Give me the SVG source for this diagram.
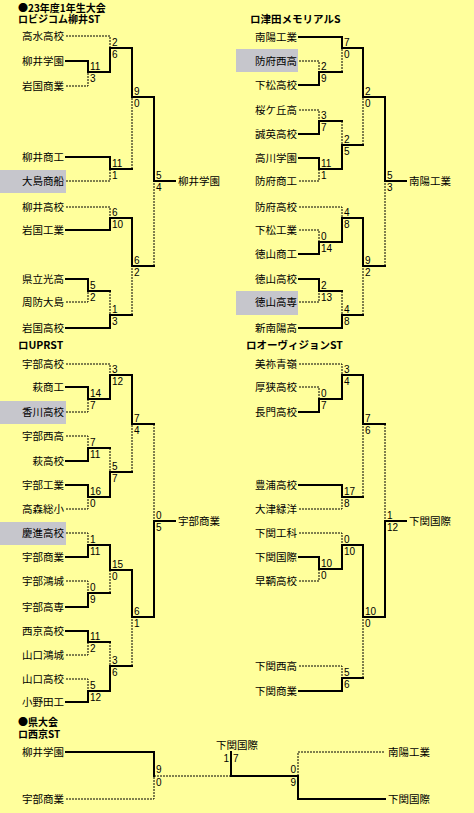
<svg xmlns="http://www.w3.org/2000/svg" width="474" height="813" viewBox="0 0 474 813">
<style>
.bg{fill:#ffff9c}
.hl{fill:#c6c6cc}
.t{font-family:"Noto Sans CJK JP","Liberation Sans",sans-serif;font-size:10.5px;fill:#000}
.r{text-anchor:end}
.h{font-family:"Noto Sans CJK JP","Liberation Sans",sans-serif;font-size:10.5px;font-weight:bold;fill:#000}
.hs{font-family:"Noto Sans CJK JP","Liberation Sans",sans-serif;font-size:10px;font-weight:bold;fill:#000}
.s{font-family:"Liberation Sans","Noto Sans CJK JP",sans-serif;font-size:10px;fill:#000}
.w{fill:none;stroke:#000;stroke-width:2;stroke-linecap:square;stroke-linejoin:miter}
.l{fill:none;stroke:#000;stroke-width:1;stroke-dasharray:2,1}
</style>
<rect class="bg" x="0" y="0" width="474" height="813"/>
<g id="headings">
<text class="hs" x="18" y="11.5"><tspan x="18" y="11.5">●23年度1年生大会</tspan><tspan x="18" y="22.5">ロビジコム柳井ST</tspan></text>
<text class="h" x="250" y="22.5">ロ津田メモリアルS</text>
<text class="h" x="18" y="349">ロUPRST</text>
<text class="h" x="246" y="349">ロオーヴィジョンST</text>
<text class="hs" x="18" y="725.5"><tspan x="18" y="725.5">●県大会</tspan><tspan x="18" y="738">ロ西京ST</tspan></text>
</g>
<g id="connectors">
<!-- left top -->
<path class="l" d="M66 36H110V48"/>
<path class="w" d="M66 61H88V72H110V48H132V97H154V181H175"/>
<path class="l" d="M66 86H88V72"/>
<path class="w" d="M66 157H110V169H132"/>
<path class="l" d="M66 181H110V169"/>
<path class="l" d="M132 169V97"/>
<path class="l" d="M66 207H110V218"/>
<path class="w" d="M66 230H110V218H132V266H154"/>
<path class="l" d="M154 266V181"/>
<path class="w" d="M66 279H88V291H110"/>
<path class="l" d="M66 302H88V291"/>
<path class="l" d="M110 291V315"/>
<path class="w" d="M66 328H110V315H132"/>
<path class="l" d="M132 315V266"/>
<!-- right top -->
<path class="w" d="M299 37H342V48H363V97H385V181H406"/>
<path class="l" d="M299 61H319V72"/>
<path class="w" d="M299 85H319V72H342"/>
<path class="l" d="M342 72V48"/>
<path class="l" d="M299 110H319V121"/>
<path class="w" d="M299 134H319V121H342"/>
<path class="l" d="M342 121V145"/>
<path class="w" d="M299 158H319V169H342V145H363"/>
<path class="l" d="M299 181H319V169"/>
<path class="l" d="M363 145V97"/>
<path class="l" d="M299 207H342V218"/>
<path class="l" d="M299 230H319V242"/>
<path class="w" d="M299 254H319V242H342V218H363V266H385"/>
<path class="l" d="M385 266V181"/>
<path class="w" d="M299 279H319V291H342"/>
<path class="l" d="M299 302H319V291"/>
<path class="l" d="M342 291V315"/>
<path class="w" d="M299 328H342V315H363"/>
<path class="l" d="M363 315V266"/>
<!-- left bottom -->
<path class="l" d="M66 364H110V375"/>
<path class="w" d="M66 387H88V399H110V375H132V424H154"/>
<path class="l" d="M66 412H88V399"/>
<path class="l" d="M154 424V521"/>
<path class="l" d="M66 436H88V448"/>
<path class="w" d="M66 461H88V448H110"/>
<path class="l" d="M110 448V472"/>
<path class="w" d="M66 485H88V497H110V472H132"/>
<path class="l" d="M66 509H88V497"/>
<path class="l" d="M132 472V424"/>
<path class="l" d="M66 533H88V545"/>
<path class="w" d="M66 557H88V545H110V570H132V617H154V521H175"/>
<path class="l" d="M66 581H88V593"/>
<path class="w" d="M66 607H88V593H110"/>
<path class="l" d="M110 593V570"/>
<path class="w" d="M66 631H88V642H110"/>
<path class="l" d="M66 655H88V642"/>
<path class="l" d="M110 642V666"/>
<path class="l" d="M66 679H88V691"/>
<path class="w" d="M66 702H88V691H110V666H132"/>
<path class="l" d="M132 666V617"/>
<!-- right bottom -->
<path class="l" d="M299 364H342V375"/>
<path class="l" d="M299 387H319V399"/>
<path class="w" d="M299 412H319V399H342V375H363V424H385"/>
<path class="l" d="M385 424V521"/>
<path class="w" d="M299 485H342V497H363"/>
<path class="l" d="M299 509H342V497"/>
<path class="l" d="M363 497V424"/>
<path class="l" d="M299 533H342V545"/>
<path class="w" d="M299 557H319V569H342V545H363V617H385V521H406"/>
<path class="l" d="M299 581H319V569"/>
<path class="l" d="M299 666H342V678"/>
<path class="w" d="M299 691H342V678H363"/>
<path class="l" d="M363 678V617"/>
<!-- prefectural -->
<path class="w" d="M66 752H154V776"/>
<path class="l" d="M66 799H154V776H231"/>
<path class="w" d="M231 752V776H298V799H385"/>
<path class="l" d="M298 776V752H385"/>
</g>
<g id="scores">
<text class="s" x="112" y="46">2</text><text class="s" x="112" y="58">6</text>
<text class="s" x="90" y="70">11</text><text class="s" x="90" y="82">3</text>
<text class="s" x="134" y="95">9</text><text class="s" x="134" y="107">0</text>
<text class="s" x="112" y="167">11</text><text class="s" x="112" y="179">1</text>
<text class="s" x="156" y="179">5</text><text class="s" x="156" y="191">4</text>
<text class="s" x="112" y="216">6</text><text class="s" x="112" y="228">10</text>
<text class="s" x="134" y="264">6</text><text class="s" x="134" y="276">2</text>
<text class="s" x="90" y="289">5</text><text class="s" x="90" y="301">2</text>
<text class="s" x="112" y="313">1</text><text class="s" x="112" y="325">3</text>

<text class="s" x="344" y="46">7</text><text class="s" x="344" y="58">0</text>
<text class="s" x="321" y="70">2</text><text class="s" x="321" y="82">9</text>
<text class="s" x="365" y="95">2</text><text class="s" x="365" y="107">0</text>
<text class="s" x="321" y="119">3</text><text class="s" x="321" y="131">7</text>
<text class="s" x="344" y="143">2</text><text class="s" x="344" y="155">5</text>
<text class="s" x="321" y="167">11</text><text class="s" x="321" y="179">1</text>
<text class="s" x="387" y="179">5</text><text class="s" x="387" y="191">3</text>
<text class="s" x="344" y="216">4</text><text class="s" x="344" y="228">8</text>
<text class="s" x="321" y="240">0</text><text class="s" x="321" y="252">14</text>
<text class="s" x="365" y="264">9</text><text class="s" x="365" y="276">2</text>
<text class="s" x="321" y="289">2</text><text class="s" x="321" y="301">13</text>
<text class="s" x="344" y="313">4</text><text class="s" x="344" y="325">8</text>

<text class="s" x="112" y="373">3</text><text class="s" x="112" y="385">12</text>
<text class="s" x="90" y="397">14</text><text class="s" x="90" y="409">7</text>
<text class="s" x="134" y="422">7</text><text class="s" x="134" y="434">4</text>
<text class="s" x="90" y="446">7</text><text class="s" x="90" y="458">11</text>
<text class="s" x="112" y="470">5</text><text class="s" x="112" y="482">7</text>
<text class="s" x="90" y="495">16</text><text class="s" x="90" y="507">0</text>
<text class="s" x="156" y="519">0</text><text class="s" x="156" y="531">5</text>
<text class="s" x="90" y="543">1</text><text class="s" x="90" y="555">11</text>
<text class="s" x="112" y="568">15</text><text class="s" x="112" y="580">0</text>
<text class="s" x="90" y="591">0</text><text class="s" x="90" y="603">9</text>
<text class="s" x="134" y="615">6</text><text class="s" x="134" y="627">1</text>
<text class="s" x="90" y="640">11</text><text class="s" x="90" y="652">2</text>
<text class="s" x="112" y="664">3</text><text class="s" x="112" y="676">6</text>
<text class="s" x="90" y="689">5</text><text class="s" x="90" y="701">12</text>

<text class="s" x="344" y="373">3</text><text class="s" x="344" y="385">4</text>
<text class="s" x="321" y="397">0</text><text class="s" x="321" y="409">7</text>
<text class="s" x="365" y="422">7</text><text class="s" x="365" y="434">6</text>
<text class="s" x="344" y="495">17</text><text class="s" x="344" y="507">8</text>
<text class="s" x="387" y="519">1</text><text class="s" x="387" y="531">12</text>
<text class="s" x="344" y="543">0</text><text class="s" x="344" y="555">10</text>
<text class="s" x="321" y="567">10</text><text class="s" x="321" y="579">0</text>
<text class="s" x="365" y="615">10</text><text class="s" x="365" y="627">0</text>
<text class="s" x="344" y="676">5</text><text class="s" x="344" y="688">6</text>

<text class="s" x="156" y="773">9</text><text class="s" x="156" y="786">0</text>
<text class="s r" x="229" y="762">1</text><text class="s" x="233" y="762">7</text>
<text class="s r" x="296" y="773">0</text><text class="s r" x="296" y="786">9</text>
</g>
<!-- left top teams -->
<g id="n-takamizu"><text class="t r" x="64" y="40">高水高校</text></g>
<g id="n-yanai-gakuen"><text class="t r" x="64" y="65">柳井学園</text></g>
<g id="n-iwakuni-shogyo"><text class="t r" x="64" y="90">岩国商業</text></g>
<g id="n-yanai-shoko"><text class="t r" x="64" y="161">柳井商工</text></g>
<g id="n-oshima-shosen"><rect class="hl" x="0" y="170" width="66" height="23"/><text class="t r" x="64" y="185">大島商船</text></g>
<g id="n-yanai-koko"><text class="t r" x="64" y="211">柳井高校</text></g>
<g id="n-iwakuni-kogyo"><text class="t r" x="64" y="234">岩国工業</text></g>
<g id="n-kenritsu-hikari"><text class="t r" x="64" y="283">県立光高</text></g>
<g id="n-suo-oshima"><text class="t r" x="64" y="306">周防大島</text></g>
<g id="n-iwakuni-koko"><text class="t r" x="64" y="332">岩国高校</text></g>
<g id="n-win-a"><text class="t" x="178" y="185">柳井学園</text></g>
<!-- right top teams -->
<g id="n-nanyo-kogyo"><text class="t r" x="297" y="41">南陽工業</text></g>
<g id="n-hofu-nishi"><rect class="hl" x="236" y="49" width="62" height="23"/><text class="t r" x="297" y="65">防府西高</text></g>
<g id="n-kudamatsu-koko"><text class="t r" x="297" y="89">下松高校</text></g>
<g id="n-sakuragaoka"><text class="t r" x="297" y="114">桜ケ丘高</text></g>
<g id="n-seiei"><text class="t r" x="297" y="138">誠英高校</text></g>
<g id="n-takagawa"><text class="t r" x="297" y="162">高川学園</text></g>
<g id="n-hofu-shoko"><text class="t r" x="297" y="185">防府商工</text></g>
<g id="n-hofu-koko"><text class="t r" x="297" y="211">防府高校</text></g>
<g id="n-kudamatsu-kogyo"><text class="t r" x="297" y="234">下松工業</text></g>
<g id="n-tokuyama-shoko"><text class="t r" x="297" y="258">徳山商工</text></g>
<g id="n-tokuyama-koko"><text class="t r" x="297" y="283">徳山高校</text></g>
<g id="n-tokuyama-kosen"><rect class="hl" x="236" y="291" width="62" height="24"/><text class="t r" x="297" y="306">徳山高専</text></g>
<g id="n-shinnanyo"><text class="t r" x="297" y="332">新南陽高</text></g>
<g id="n-win-b"><text class="t" x="409" y="185">南陽工業</text></g>
<!-- left bottom teams -->
<g id="n-ube-koko"><text class="t r" x="64" y="368">宇部高校</text></g>
<g id="n-hagi-shoko"><text class="t r" x="64" y="391">萩商工</text></g>
<g id="n-kagawa"><rect class="hl" x="0" y="401" width="66" height="23"/><text class="t r" x="64" y="416">香川高校</text></g>
<g id="n-ube-nishi"><text class="t r" x="64" y="440">宇部西高</text></g>
<g id="n-hagi-koko"><text class="t r" x="64" y="465">萩高校</text></g>
<g id="n-ube-kogyo"><text class="t r" x="64" y="489">宇部工業</text></g>
<g id="n-takamori"><text class="t r" x="64" y="513">高森総小</text></g>
<g id="n-keishin"><rect class="hl" x="0" y="522" width="66" height="23"/><text class="t r" x="64" y="537">慶進高校</text></g>
<g id="n-ube-shogyo"><text class="t r" x="64" y="561">宇部商業</text></g>
<g id="n-ube-koujou"><text class="t r" x="64" y="585">宇部鴻城</text></g>
<g id="n-ube-kosen"><text class="t r" x="64" y="611">宇部高専</text></g>
<g id="n-saikyo"><text class="t r" x="64" y="635">西京高校</text></g>
<g id="n-yamaguchi-koujou"><text class="t r" x="64" y="659">山口鴻城</text></g>
<g id="n-yamaguchi-koko"><text class="t r" x="64" y="683">山口高校</text></g>
<g id="n-onoda"><text class="t r" x="64" y="706">小野田工</text></g>
<g id="n-win-c"><text class="t" x="178" y="525">宇部商業</text></g>
<!-- right bottom teams -->
<g id="n-mine-seirei"><text class="t r" x="297" y="368">美祢青嶺</text></g>
<g id="n-asa"><text class="t r" x="297" y="391">厚狭高校</text></g>
<g id="n-nagato"><text class="t r" x="297" y="416">長門高校</text></g>
<g id="n-toyoura"><text class="t r" x="297" y="489">豊浦高校</text></g>
<g id="n-otsu-ryokuyo"><text class="t r" x="297" y="513">大津緑洋</text></g>
<g id="n-shimonoseki-koka"><text class="t r" x="297" y="537">下関工科</text></g>
<g id="n-shimonoseki-kokusai"><text class="t r" x="297" y="561">下関国際</text></g>
<g id="n-hayatomo"><text class="t r" x="297" y="585">早鞆高校</text></g>
<g id="n-shimonoseki-nishi"><text class="t r" x="297" y="670">下関西高</text></g>
<g id="n-shimonoseki-shogyo"><text class="t r" x="297" y="695">下関商業</text></g>
<g id="n-win-d"><text class="t" x="409" y="525">下関国際</text></g>
<!-- prefectural -->
<g id="n-p-yanai"><text class="t r" x="64" y="756">柳井学園</text></g>
<g id="n-p-ube"><text class="t r" x="64" y="803">宇部商業</text></g>
<g id="n-p-champion"><text class="t" x="237" y="749" text-anchor="middle">下関国際</text></g>
<g id="n-p-nanyo"><text class="t" x="388" y="756">南陽工業</text></g>
<g id="n-p-shimonoseki"><text class="t" x="388" y="803">下関国際</text></g>
</svg>
